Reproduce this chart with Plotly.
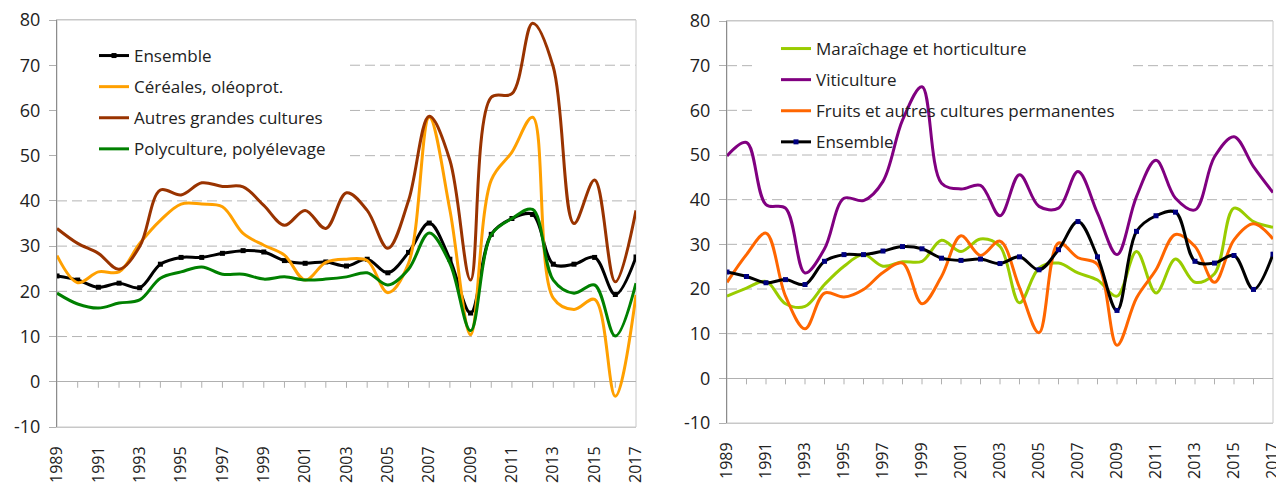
import plotly.graph_objects as go

years = list(range(1989, 2018))
label_years = [str(y) for y in range(1989, 2018, 2)]
y_ticks = list(range(-10, 81, 10))
y_labels = [str(v) for v in y_ticks]
grid_values = [10, 20, 30, 40, 50, 60, 70]

# Left panel series
ensemble = [23.4, 22.5, 20.9, 21.8, 20.8, 26.0, 27.5, 27.5, 28.4, 29.0, 28.7, 26.8, 26.2, 26.5,
            25.6, 27.1, 24.1, 28.6, 35.1, 27.1, 15.2, 32.6, 36.1, 37.0, 26.0, 26.0, 27.5, 19.3, 27.6]
cereales = [27.9, 21.9, 24.3, 24.3, 30.6, 35.7, 39.3, 39.3, 38.7, 32.8, 30.2, 28.0, 22.5, 26.4,
            27.1, 26.8, 19.7, 26.2, 58.5, 38.0, 10.4, 44.6, 50.8, 58.5, 18.5, 16.0, 18.2, -3.2, 19.2]
autres = [33.9, 30.6, 28.4, 24.9, 29.9, 42.4, 41.3, 44.0, 43.2, 43.1, 39.0, 34.6, 37.9, 33.9,
          41.8, 37.9, 29.5, 40.1, 58.7, 49.0, 22.5, 62.9, 63.7, 79.3, 69.6, 35.0, 44.6, 22.1, 37.9]
polyculture = [19.6, 17.2, 16.3, 17.4, 18.1, 22.9, 24.3, 25.4, 23.8, 23.8, 22.7, 23.2, 22.5, 22.7,
               23.2, 24.1, 21.4, 24.9, 32.9, 26.2, 11.3, 32.5, 36.1, 38.1, 22.5, 19.6, 21.4, 10.1, 21.8]

# Right panel series
maraichage = [18.4, 20.2, 21.7, 16.7, 16.1, 21.0, 25.1, 27.7, 25.1, 26.1, 26.2, 30.9, 28.4, 31.2,
              29.5, 16.9, 24.7, 25.8, 23.6, 22.0, 18.4, 28.4, 19.1, 26.7, 21.5, 23.4, 38.1, 35.1, 33.8]
viticulture = [49.8, 52.8, 38.9, 38.1, 23.6, 29.0, 40.3, 39.8, 44.1, 57.8, 65.3, 43.7, 42.4, 43.2,
               36.4, 45.6, 38.5, 38.1, 46.3, 37.0, 27.7, 40.7, 48.8, 40.3, 37.7, 49.6, 54.1, 47.4, 41.6]
fruits = [21.5, 27.7, 32.5, 18.4, 11.1, 19.1, 18.2, 19.9, 23.7, 25.8, 16.7, 22.8, 31.9, 27.5,
          30.7, 20.3, 10.2, 30.3, 27.0, 25.5, 7.4, 18.0, 24.3, 32.2, 29.5, 21.5, 31.0, 34.6, 31.2]
ensemble_r = [23.8, 22.8, 21.4, 22.1, 21.0, 26.2, 27.7, 27.7, 28.5, 29.5, 29.0, 26.9, 26.4, 26.7,
              25.7, 27.2, 24.3, 28.8, 35.1, 27.2, 15.2, 32.9, 36.4, 37.2, 26.2, 25.8, 27.5, 19.9, 27.8]

FONT = "Open Sans"
# the page body adds an 8px margin: the figure is 8px smaller and shifted
W, H = 1276, 480
OFF = 8
LXD = [(57 - OFF) / W, (636 - OFF) / W]
RXD = [(727 - OFF) / W, (1273 - OFF) / W]
LYD = [1 - (427 - OFF) / H, 1 - (20 - OFF) / H]
RYD = [1 - (423 - OFF) / H, 1 - (21 - OFF) / H]
YR = [-10, 80]

fig = go.Figure()

def add(x, y, name, color, xa, ya, legend, marker=None):
    kw = dict(mode="lines")
    if marker:
        kw = dict(mode="lines+markers", marker=dict(symbol="square", size=5, color=marker))
    fig.add_trace(go.Scatter(x=x, y=y, name=name, xaxis=xa, yaxis=ya, legend=legend,
                             legendgroup=name + legend,
                             line=dict(color=color, width=3, shape="spline", smoothing=1.0),
                             **kw))

add(years, ensemble, "Ensemble", "#000000", "x", "y", "legend", marker="#000000")
add(years, cereales, "Céréales, oléoprot.", "#FFA000", "x", "y", "legend")
add(years, autres, "Autres grandes cultures", "#993300", "x", "y", "legend")
add(years, polyculture, "Polyculture, polyélevage", "#008000", "x", "y", "legend")

add(years, maraichage, "Maraîchage et horticulture", "#99CC00", "x2", "y2", "legend2")
add(years, viticulture, "Viticulture", "#800080", "x2", "y2", "legend2")
add(years, fruits, "Fruits et autres cultures permanentes", "#FF6600", "x2", "y2", "legend2")
add(years, ensemble_r, "Ensemble", "#000000", "x2", "y2", "legend2", marker="#000080")

xcommon = dict(range=[years[0], years[-1]], tickvals=label_years, ticktext=label_years,
               tickangle=-90, ticks="", showgrid=False, zeroline=False,
               showline=True, linecolor="#c8c8c8", linewidth=1, mirror=True,
               tickfont=dict(family=FONT, size=16, color="#222222"),
               ticklabelstandoff=12, ticklabeloverflow="allow",
               automargin=False, fixedrange=True)
ycommon = dict(range=YR, tickvals=y_ticks, ticktext=y_labels, showgrid=False, zeroline=True,
               zerolinecolor="#b0b0b0", zerolinewidth=1, showline=True,
               linecolor="#8c8c8c", linewidth=1,
               ticks="outside", ticklen=7, tickcolor="#b0b0b0",
               tickfont=dict(family=FONT, size=18, color="#222222"),
               ticklabelstandoff=5, ticklabeloverflow="allow",
               automargin=False, fixedrange=True)

GRID = dict(color="#b4b4b4", width=1, dash="10px,5px")
shapes = []
# dashed gridlines; the legend areas (as in the original) interrupt some of them
left_gap_end = (350 - 57) / (636 - 57)
right_gap = ((752 - 727) / (1273 - 727), (1133 - 727) / (1273 - 727))
for g in grid_values:
    segs = [(left_gap_end, 1)] if g >= 50 else [(0, 1)]
    for a, b in segs:
        shapes.append(dict(type="line", xref="x domain", yref="y", x0=a, x1=b, y0=g, y1=g,
                           line=GRID, layer="below"))
    segs = [(0, right_gap[0]), (right_gap[1], 1)] if g >= 60 else [(0, 1)]
    for a, b in segs:
        shapes.append(dict(type="line", xref="x2 domain", yref="y2", x0=a, x1=b, y0=g, y1=g,
                           line=GRID, layer="below"))
# year tick marks hanging below the zero line
for xr, yr in (("x", "y"), ("x2", "y2")):
    for yv in years[1:-1]:
        shapes.append(dict(type="line", xref=xr, yref=yr, ysizemode="pixel", yanchor=0,
                           x0=yv, x1=yv, y0=0, y1=-6,
                           line=dict(color="#b0b0b0", width=1), layer="below"))
# plot frames
for xr, yr in (("x domain", "y domain"), ("x2 domain", "y2 domain")):
    shapes.append(dict(type="rect", xref=xr, yref=yr, x0=0, x1=1, y0=0, y1=1,
                       line=dict(color="#c8c8c8", width=1), layer="below"))

fig.update_layout(
    width=W, height=H, margin=dict(l=0, r=0, t=0, b=0),
    paper_bgcolor="white", plot_bgcolor="white",
    font=dict(family=FONT, size=17, color="#222222"),
    xaxis=dict(domain=LXD, anchor="y", **xcommon),
    yaxis=dict(domain=LYD, anchor="x", **ycommon),
    xaxis2=dict(domain=RXD, anchor="y2", **xcommon),
    yaxis2=dict(domain=RYD, anchor="x2", **ycommon),
    legend=dict(x=86 / W, y=1 - 30 / H, xanchor="left", yanchor="top",
                bgcolor="rgba(0,0,0,0)", font=dict(family=FONT, size=17, color="#222222"),
                tracegroupgap=6, traceorder="grouped", itemclick=False),
    legend2=dict(x=768 / W, y=1 - 23 / H, xanchor="left", yanchor="top",
                 bgcolor="rgba(0,0,0,0)", font=dict(family=FONT, size=17, color="#222222"),
                 tracegroupgap=6, traceorder="grouped", itemclick=False),
    showlegend=True,
    shapes=shapes,
)

fig.write_html("out.html")
